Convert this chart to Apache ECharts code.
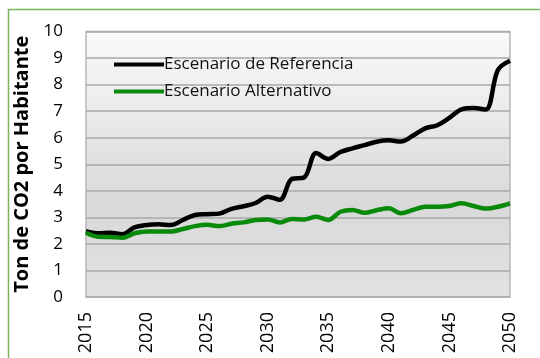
<!DOCTYPE html>
<html>
<head>
<meta charset="utf-8">
<script src="https://cdn.jsdelivr.net/npm/echarts@6/dist/echarts.min.js"></script>
<style>
  html, body { margin: 0; padding: 0; background: #ffffff; }
  #chart { width: 540px; height: 358px; }
</style>
</head>
<body>
<div id="chart"></div>
<script>
// Years 2015–2050, per-capita CO2 emissions (tonnes per inhabitant)
const years = [2015, 2016, 2017, 2018, 2019, 2020, 2021, 2022, 2023, 2024,
  2025, 2026, 2027, 2028, 2029, 2030, 2031, 2032, 2033, 2034,
  2035, 2036, 2037, 2038, 2039, 2040, 2041, 2042, 2043, 2044,
  2045, 2046, 2047, 2048, 2049, 2050];

const referencia = [2.48, 2.4, 2.42, 2.36, 2.62, 2.71, 2.74, 2.71, 2.9, 3.09,
  3.12, 3.14, 3.32, 3.42, 3.54, 3.78, 3.66, 4.45, 4.5, 5.42,
  5.2, 5.46, 5.6, 5.72, 5.85, 5.9, 5.86, 6.08, 6.35, 6.47,
  6.75, 7.07, 7.12, 7.06, 8.55, 8.9];

const alternativo = [2.42, 2.27, 2.26, 2.23, 2.4, 2.47, 2.47, 2.47, 2.56, 2.67,
  2.72, 2.67, 2.76, 2.81, 2.9, 2.92, 2.81, 2.94, 2.92, 3.02,
  2.9, 3.21, 3.28, 3.17, 3.27, 3.34, 3.15, 3.28, 3.4, 3.4,
  3.43, 3.53, 3.43, 3.33, 3.4, 3.53];

const seriesNames = ['Escenario de Referencia', 'Escenario Alternativo'];
const yTitle = 'Ton de CO2 por Habitante';

const pairs = vals => years.map((y, i) => [y, vals[i]]);

const chart = echarts.init(document.getElementById('chart'), null, { renderer: 'canvas' });

const font = '"Open Sans", Lato, "Liberation Sans", sans-serif';

chart.setOption({
  animation: false,
  backgroundColor: '#ffffff',
  graphic: [{
    type: 'rect',
    shape: { x: 8.5, y: 9.5, width: 560, height: 380 },
    style: { fill: 'none', stroke: '#7ab55c', lineWidth: 1.5 },
    z: -1
  }],
  grid: {
    left: 86, right: 30, top: 31.5, bottom: 61,
    show: true,
    borderColor: '#b8b8b8',
    borderWidth: 1.5,
    backgroundColor: {
      type: 'linear', x: 0, y: 0, x2: 0, y2: 1,
      colorStops: [
        { offset: 0, color: '#fafafa' },
        { offset: 0.65, color: '#d9d9d9' },
        { offset: 1, color: '#e2e2e2' }
      ]
    }
  },
  legend: {
    orient: 'vertical',
    left: 109, top: 51,
    itemWidth: 50, itemHeight: 4,
    itemGap: 10,
    icon: 'rect',
    data: seriesNames,
    textStyle: { fontFamily: font, fontSize: 17, color: '#111', padding: [0, 0, 0, -5] }
  },
  xAxis: {
    type: 'value',
    min: 2015, max: 2050, interval: 5,
    axisLine: { show: false },
    axisTick: { show: false },
    splitLine: { show: false },
    axisLabel: {
      rotate: 90, margin: 15, color: '#000',
      fontFamily: font, fontSize: 18,
      formatter: v => String(v)
    }
  },
  yAxis: {
    type: 'value',
    min: 0, max: 10, interval: 1,
    name: yTitle,
    nameLocation: 'middle',
    nameGap: 39,
    nameTextStyle: { fontFamily: font, fontSize: 20, fontWeight: 'bold', color: '#000' },
    axisLine: { show: false },
    axisTick: { show: false },
    axisLabel: { margin: 23, color: '#000', fontFamily: font, fontSize: 17 },
    splitLine: { lineStyle: { color: '#a9a9a9', width: 1.5 } }
  },
  series: [
    {
      name: seriesNames[0], type: 'line', data: pairs(referencia),
      smooth: 0.35, showSymbol: false,
      itemStyle: { color: '#000000' },
      lineStyle: { color: '#000000', width: 4.5 }
    },
    {
      name: seriesNames[1], type: 'line', data: pairs(alternativo),
      smooth: 0.35, showSymbol: false,
      itemStyle: { color: '#0a8a0a' },
      lineStyle: { color: '#0a8a0a', width: 4.5 }
    }
  ]
});
</script>
</body>
</html>
